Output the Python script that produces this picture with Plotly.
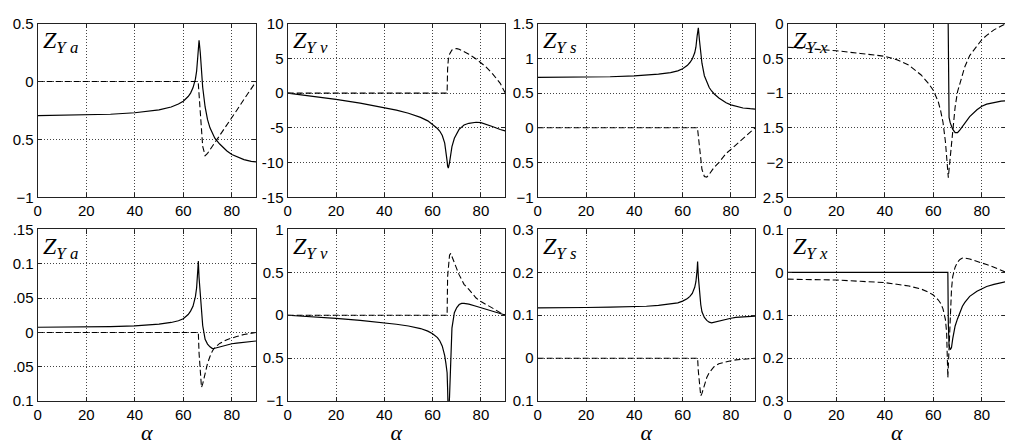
import plotly.graph_objects as go

# angle of incidence (deg)
alpha = [0, 10, 20, 30, 40, 45, 50, 55, 58, 60, 62, 63, 64, 65, 65.5, 66, 66.2, 66.5,
         67, 67.5, 68, 69, 70, 71, 72, 73, 75, 78, 80, 82, 85, 88, 90]

# ---- top row ----
zya_top_solid = [-0.295, -0.293, -0.29, -0.283, -0.27, -0.26, -0.245, -0.22, -0.195, -0.17,
                 -0.13, -0.1, -0.055, 0.02, 0.09, 0.22, 0.30, 0.355, 0.25, 0.10, -0.05, -0.22,
                 -0.33, -0.40, -0.45, -0.49, -0.54, -0.60, -0.63, -0.65, -0.675, -0.69, -0.695]
zya_top_dash = [0] * 16 + [-0.02, -0.1, -0.25, -0.42, -0.56, -0.64, -0.62, -0.59, -0.56,
                           -0.52, -0.46, -0.37, -0.31, -0.25, -0.155, -0.065, 0]

zyv_top_solid = [0, -0.4, -0.9, -1.45, -2.1, -2.45, -2.9, -3.5, -4.0, -4.5, -5.1, -5.5, -6.1,
                 -7.2, -8.2, -9.8, -10.5, -10.8, -10.0, -8.8, -7.7, -6.5, -5.8, -5.2, -4.9,
                 -4.6, -4.35, -4.2, -4.25, -4.45, -4.85, -5.25, -5.45]
zyv_top_dash = [0] * 16 + [3.5, 4.8, 5.6, 6.0, 6.2, 6.35, 6.4, 6.3, 6.15, 6.0, 5.6, 4.9, 4.4,
                           3.8, 2.7, 1.4, 0.05]

zys_top_solid = [0.725, 0.725, 0.727, 0.735, 0.748, 0.758, 0.772, 0.795, 0.82, 0.85, 0.9, 0.94,
                 0.99, 1.08, 1.16, 1.32, 1.40, 1.44, 1.25, 1.08, 0.93, 0.75, 0.65, 0.58, 0.53,
                 0.49, 0.43, 0.36, 0.33, 0.31, 0.285, 0.275, 0.27]
zys_top_dash = [0] * 16 + [-0.02, -0.12, -0.3, -0.48, -0.6, -0.7, -0.71, -0.67, -0.62, -0.57,
                           -0.5, -0.37, -0.31, -0.25, -0.16, -0.07, 0]

zyx_top_solid = [None] * 15 + [0.5, -0.5, -1.35, -1.43, -1.48, -1.52, -1.57, -1.57, -1.53,
                               -1.48, -1.43, -1.34, -1.24, -1.19, -1.16, -1.135, -1.115, -1.11]
zyx_top_dash = [-0.34, -0.36, -0.39, -0.43, -0.47, -0.52, -0.6, -0.74, -0.86, -0.96, -1.12,
                -1.25, -1.42, -1.7, -1.9, -2.2, -2.22, -2.1, -1.9, -1.7, -1.52, -1.2, -0.98,
                -0.85, -0.72, -0.62, -0.46, -0.32, -0.23, -0.17, -0.09, -0.035, 0]

# ---- bottom row ----
zya_bot_solid = [0.0075, 0.0077, 0.008, 0.0085, 0.0095, 0.0105, 0.012, 0.0145, 0.017, 0.02,
                 0.026, 0.031, 0.038, 0.052, 0.065, 0.092, 0.104, 0.08, 0.052, 0.028, 0.01,
                 -0.01, -0.017, -0.021, -0.0235, -0.023, -0.021, -0.018, -0.0165, -0.0155,
                 -0.014, -0.013, -0.0125]
zya_bot_dash = [0] * 17 + [-0.03, -0.065, -0.08, -0.075, -0.058, -0.045, -0.035, -0.027,
                           -0.022, -0.016, -0.0105, -0.008, -0.006, -0.003, -0.001, 0]

zyv_bot_solid = [0, -0.015, -0.037, -0.06, -0.088, -0.105, -0.125, -0.155, -0.185, -0.215,
                 -0.26, -0.3, -0.36, -0.47, -0.56, -0.67, -0.85, -1.2, -0.95, -0.45, -0.15,
                 0.03, 0.09, 0.125, 0.138, 0.138, 0.13, 0.105, 0.088, 0.072, 0.045, 0.018, 0.003]
zyv_bot_dash = [0] * 16 + [0.45, 0.6, 0.7, 0.72, 0.68, 0.6, 0.54, 0.47, 0.41, 0.36, 0.3, 0.2,
                           0.16, 0.13, 0.08, 0.03, 0]

zys_bot_solid = [0.117, 0.117, 0.118, 0.119, 0.12, 0.121, 0.123, 0.126, 0.129, 0.133, 0.139,
                 0.144, 0.151, 0.165, 0.178, 0.205, 0.225, 0.19, 0.15, 0.125, 0.108, 0.095,
                 0.088, 0.084, 0.0825, 0.084, 0.087, 0.091, 0.093, 0.095, 0.0965, 0.097, 0.098]
zys_bot_dash = [0] * 17 + [-0.03, -0.07, -0.088, -0.082, -0.062, -0.045, -0.034, -0.026,
                           -0.02, -0.013, -0.008, -0.006, -0.004, -0.002, -0.001, 0]

zyx_bot_solid = [0] * 16 + [-0.12, -0.17, -0.18, -0.175, -0.155, -0.125, -0.108, -0.093,
                            -0.079, -0.07, -0.056, -0.044, -0.038, -0.033, -0.028, -0.024, -0.022]
zyx_bot_dash = [-0.016, -0.017, -0.018, -0.021, -0.024, -0.028, -0.032, -0.039, -0.046,
                -0.053, -0.064, -0.072, -0.085, -0.11, -0.14, -0.245, -0.22, -0.16, -0.09,
                -0.04, -0.01, 0.012, 0.024, 0.03, 0.033, 0.033, 0.031, 0.026, 0.022, 0.018,
                0.012, 0.005, 0]

# subscripts and y ticks (labels are clipped on the left in the original)
subs = ["a", "v", "s", "x", "a", "v", "s", "x"]
y_ranges = [[-1, 0.5], [-15, 10], [-1, 1.5], [-2.5, 0],
            [-0.1, 0.15], [-1, 1], [-0.1, 0.3], [-0.3, 0.1]]
y_tickvals = [[-1, -0.5, 0, 0.5],
              [-15, -10, -5, 0, 5, 10],
              [-1, -0.5, 0, 0.5, 1, 1.5],
              [-2.5, -2, -1.5, -1, -0.5, 0],
              [-0.1, -0.05, 0, 0.05, 0.1, 0.15],
              [-1, -0.5, 0, 0.5, 1],
              [-0.1, 0, 0.1, 0.2, 0.3],
              [-0.3, -0.2, -0.1, 0, 0.1]]
y_ticktext = [["−1", "0.5", "0", "0.5"],
              ["-15", "-10", "-5", "0", "5", "10"],
              ["−1", "0.5", "0", "0.5", "1", "1.5"],
              ["2.5", "−2", "1.5", "−1", "0.5", "0"],
              ["0.1", ".05", "0", ".05", "0.1", ".15"],
              ["−1", "0.5", "0", "0.5", "1"],
              ["0.1", "0", "0.1", "0.2", "0.3"],
              ["0.3", "0.2", "0.1", "0", "0.1"]]
x_tickvals = [0, 20, 40, 60, 80]

solids = [zya_top_solid, zyv_top_solid, zys_top_solid, zyx_top_solid,
          zya_bot_solid, zyv_bot_solid, zys_bot_solid, zyx_bot_solid]
dashes = [zya_top_dash, zyv_top_dash, zys_top_dash, zyx_top_dash,
          zya_bot_dash, zyv_bot_dash, zys_bot_dash, zyx_bot_dash]

# page body keeps an 8px margin, so draw into the visible part only
W, H = 1005, 437
SX, SY = W / 1013, H / 445
col_px = [(26, 247), (279, 499), (532, 752), (785, 1006)]
row_px = [(7, 191), (225, 407)]

tick_font = dict(family="Liberation Sans, Arial, sans-serif", size=15, color="black")
axis_common = dict(
    showline=True, mirror="ticks", linecolor="#222", linewidth=1.3,
    ticks="inside", ticklen=4, tickcolor="#222",
    showgrid=True, gridcolor="#444", griddash="1px,2px", gridwidth=1,
    zeroline=False, tickfont=tick_font,
)

fig = go.Figure()
layout = {}
for i in range(8):
    n = i + 1
    r, c = divmod(i, 4)
    xa = "x" if n == 1 else f"x{n}"
    ya = "y" if n == 1 else f"y{n}"

    fig.add_trace(go.Scatter(
        x=alpha, y=solids[i], xaxis=xa, yaxis=ya, mode="lines",
        line=dict(color="black", width=1.2), connectgaps=False,
        showlegend=False, hoverinfo="skip",
    ))
    fig.add_trace(go.Scatter(
        x=alpha, y=dashes[i], xaxis=xa, yaxis=ya, mode="lines",
        line=dict(color="black", width=1.1, dash="6px,3px"),
        showlegend=False, hoverinfo="skip",
    ))

    x0, x1 = col_px[c]
    t, b = row_px[r]
    xaxis = dict(axis_common, domain=[x0 * SX / W, x1 * SX / W], range=[0, 90],
                 tickvals=x_tickvals, anchor=ya)
    if r == 1:
        xaxis["title"] = dict(
            text="<i>α</i>", standoff=0,
            font=dict(family="Liberation Serif, Times New Roman, serif", size=22, color="black"),
        )
    yaxis = dict(axis_common, domain=[1 - b * SY / H, 1 - t * SY / H], range=y_ranges[i],
                 tickvals=y_tickvals[i], ticktext=y_ticktext[i], anchor=xa)
    layout["xaxis" if n == 1 else f"xaxis{n}"] = xaxis
    layout["yaxis" if n == 1 else f"yaxis{n}"] = yaxis

    fig.add_annotation(
        text=f"<i>Z</i><sub><i>Y {subs[i]}</i></sub>",
        xref=f"{xa} domain", yref=f"{ya} domain", x=0.015, y=0.99,
        xanchor="left", yanchor="top", showarrow=False,
        font=dict(family="Liberation Serif, Times New Roman, serif", size=24, color="black"),
    )

fig.update_layout(
    **layout,
    width=W, height=H,
    margin=dict(l=0, r=0, t=0, b=0),
    paper_bgcolor="white", plot_bgcolor="white",
    showlegend=False,
)

fig.write_html("out.html")
